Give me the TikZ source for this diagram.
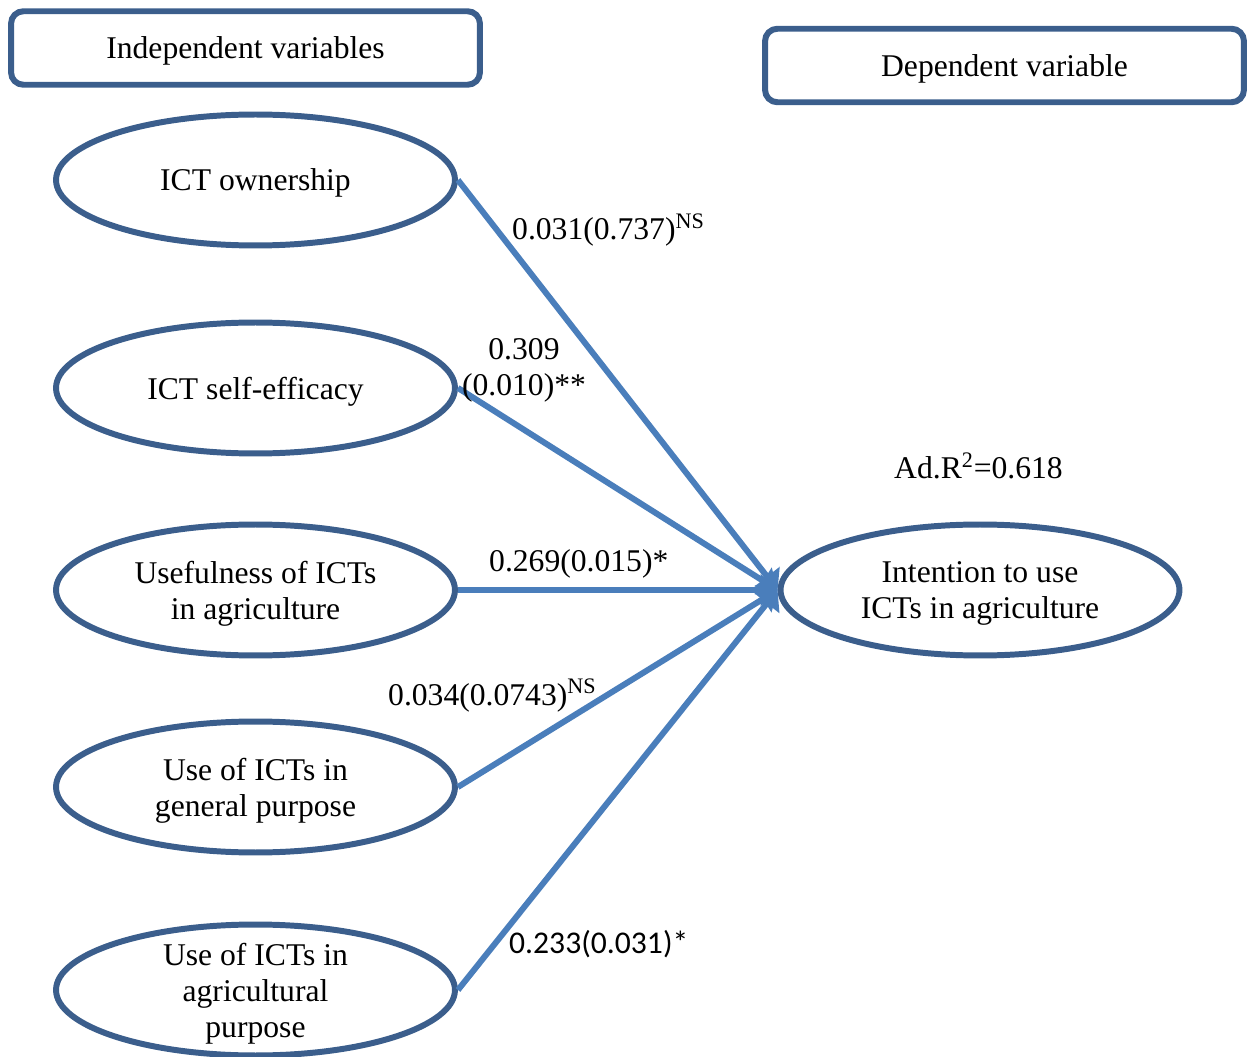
\documentclass[tikz,border=0pt]{standalone}
\usepackage{fontspec}
\setmainfont{Liberation Serif}
\newfontfamily\calib{Carlito}
\usetikzlibrary{arrows.meta,shapes.geometric}
\definecolor{frame}{HTML}{3B5E8C}
\definecolor{link}{HTML}{4A7EBB}

\begin{document}
\begin{tikzpicture}[x=.02cm,y=-.02cm,every node/.style={font=\fontsize{18}{20.5}\selectfont,text=black},hdr/.style={draw=frame,line width=3.4pt,rounded corners=7pt,fill=white,minimum height=1.47cm,text depth=0pt},var/.style={ellipse,draw=frame,line width=3.4pt,minimum width=7.98cm,minimum height=2.62cm,inner sep=0pt,align=center,text depth=0pt},flow/.style={-{Triangle[length=.34cm,width=.62cm]},link,line width=3.4pt},coef/.style={anchor=base west}]
\useasboundingbox (0,0) rectangle (1252,1057);

\node[hdr,minimum width=9.38cm] (indep) at (245.5,48) {Independent variables};
\node[hdr,minimum width=9.58cm] (depend) at (1004.5,65.5) {Dependent variable};

\node[var] (own) at (255.5,180) {ICT ownership};
\node[var] (eff) at (255.5,388) {ICT self-efficacy};
\node[var] (useful) at (255.5,590) {Usefulness of ICTs\\in agriculture};
\node[var] (gen) at (255.5,787) {Use of ICTs in\\general purpose};
\node[var] (agr) at (255.5,990) {};
\node[align=center,text depth=0pt] (agrtext) at (agr) {Use of ICTs in\\agricultural\\purpose};
\node[var] (intent) at (980,590) {Intention to use\\ICTs in agriculture};

\draw[flow] (own.east) -- (intent.west);
\draw[flow] (eff.east) -- (intent.west);
\draw[flow] (useful.east) -- (intent.west);
\draw[flow] (gen.east) -- (intent.west);
\draw[flow] (agr.east) -- (intent.west);

\node[coef] (cown) at (506,240) {0.031(0.737)\textsuperscript{NS}};
\node[align=center] (ceff) at (524,370) {0.309\\(0.010)**};
\node[coef] (cuseful) at (483,572) {0.269(0.015)*};
\node[coef] (cgen) at (382,705) {0.034(0.0743)\textsuperscript{NS}};
\node[coef,font=\calib\fontsize{18}{20.5}\selectfont] (cagr) at (503,953) {0.233(0.031)*};
\node[coef] (rsq) at (888,479) {Ad.R\textsuperscript{2}=0.618};

\end{tikzpicture}
\end{document}
